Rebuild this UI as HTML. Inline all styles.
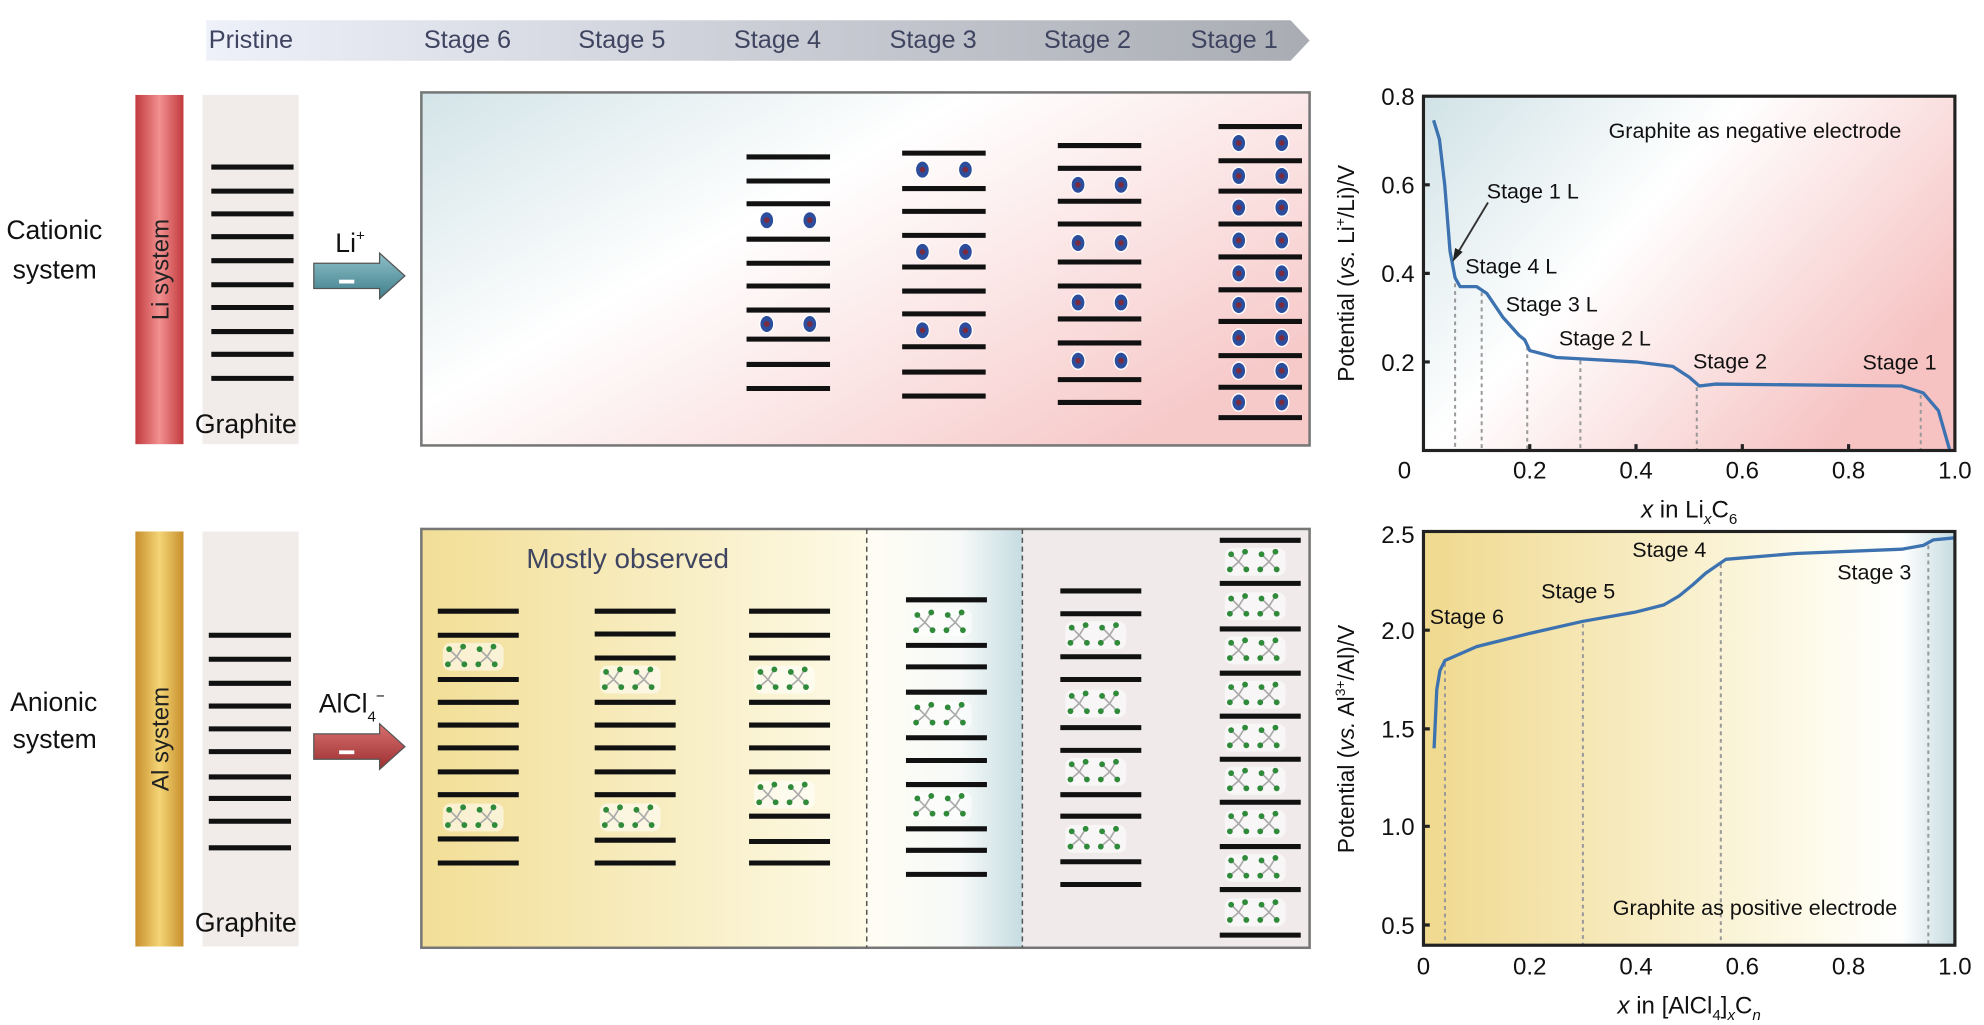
<!DOCTYPE html>
<html><head><meta charset="utf-8"><style>
html,body{margin:0;padding:0;background:#fff;}
svg{display:block;}
text{font-family:"Liberation Sans",Arial,sans-serif;}
</style></head><body>
<svg width="1984" height="1025" viewBox="0 0 1568 810" xmlns="http://www.w3.org/2000/svg">
<defs>
<linearGradient id="ban" x1="0" x2="1" y1="0" y2="0"><stop offset="0" stop-color="#eef0fa"/><stop offset="1" stop-color="#a9acb3"/></linearGradient>
<linearGradient id="rbar" x1="0" x2="1"><stop offset="0" stop-color="#c23a3d"/><stop offset="0.5" stop-color="#f29090"/><stop offset="1" stop-color="#c23a3d"/></linearGradient>
<linearGradient id="ybar" x1="0" x2="1"><stop offset="0" stop-color="#c88f2c"/><stop offset="0.5" stop-color="#f4d576"/><stop offset="1" stop-color="#c88f2c"/></linearGradient>
<linearGradient id="cbox" x1="0" y1="0" x2="1" y2="0.7"><stop offset="0" stop-color="#d3e4e8"/><stop offset="0.42" stop-color="#ffffff"/><stop offset="1" stop-color="#f7caca"/></linearGradient>
<linearGradient id="cplot" x1="0" y1="0" x2="1" y2="0.6"><stop offset="0" stop-color="#d0e2e6"/><stop offset="0.45" stop-color="#ffffff"/><stop offset="1" stop-color="#f6c2c2"/></linearGradient>
<linearGradient id="ybox" x1="0" x2="1"><stop offset="0" stop-color="#f2de96"/><stop offset="1" stop-color="#fdfae6"/></linearGradient>
<linearGradient id="bbox" x1="0" x2="1"><stop offset="0" stop-color="#fffdf3"/><stop offset="0.6" stop-color="#f6f9f8"/><stop offset="1" stop-color="#c6dde2"/></linearGradient>
<linearGradient id="yplot" x1="0" x2="1"><stop offset="0" stop-color="#f0d98e"/><stop offset="0.75" stop-color="#fdfbec"/><stop offset="0.9" stop-color="#ffffff"/><stop offset="1" stop-color="#c5dbe0"/></linearGradient>
<linearGradient id="tarr" x1="0" y1="0" x2="0" y2="1"><stop offset="0" stop-color="#8fc0c8"/><stop offset="1" stop-color="#3f7f8c"/></linearGradient>
<linearGradient id="rarr" x1="0" y1="0" x2="0" y2="1"><stop offset="0" stop-color="#d97070"/><stop offset="1" stop-color="#9c2f2f"/></linearGradient>
<g id="d"><ellipse rx="6" ry="7.5" fill="#fff"/><ellipse rx="5" ry="6.3" fill="#2c4c9c"/><circle r="2.2" fill="#7b2b3d"/></g>
<g id="li"><use href="#d" x="16"/><use href="#d" x="50"/></g>
<g id="m"><path d="M0 0L-6 -6M0 0L5 -8M0 0L-7 6M0 0L6 6" stroke="#aaa" stroke-width="1.3"/><circle cx="-6" cy="-6" r="2.3" fill="#2f8a3a"/><circle cx="5" cy="-8" r="2.3" fill="#2f8a3a"/><circle cx="-7" cy="6" r="2.3" fill="#2f8a3a"/><circle cx="6" cy="6" r="2.3" fill="#2f8a3a"/></g>
<g id="al"><rect x="8" y="-11" width="48" height="22" rx="6" fill="#fff" opacity="0.55"/><use href="#m" x="19"/><use href="#m" x="43"/></g>
</defs>

<polygon points="163,16 1020,16 1035,32 1020,48 163,48" fill="url(#ban)"/>
<g font-size="20" fill="#3f4560">
<text x="165" y="38">Pristine</text><text x="335" y="38">Stage 6</text><text x="457" y="38">Stage 5</text><text x="580" y="38">Stage 4</text><text x="703" y="38">Stage 3</text><text x="825" y="38">Stage 2</text><text x="941" y="38">Stage 1</text>
</g>

<g font-size="21" fill="#111">
<text x="5" y="189">Cationic</text><text x="10" y="220">system</text>
<text x="8" y="562">Anionic</text><text x="10" y="591">system</text>
</g>
<rect x="107" y="75" width="38" height="276" fill="url(#rbar)"/>
<rect x="107" y="420" width="38" height="328" fill="url(#ybar)"/>
<text transform="translate(133,213) rotate(-90)" text-anchor="middle" font-size="19" fill="#222">Li system</text>
<text transform="translate(133,584) rotate(-90)" text-anchor="middle" font-size="19" fill="#222">Al system</text>
<rect x="160" y="75" width="76" height="276" fill="#f1ebe9"/>
<rect x="160" y="420" width="76" height="328" fill="#f1ebe9"/>
<g font-size="21" fill="#111"><text x="154" y="342">Graphite</text><text x="154" y="736">Graphite</text></g>
<g stroke="#111" stroke-width="4" fill="none">
<path d="M167 132h65M167 151h65M167 169h65M167 187h65M167 206h65M167 225h65M167 243h65M167 262h65M167 280h65M167 299h65"/>
<path d="M165 502h65M165 521h65M165 540h65M165 558h65M165 576h65M165 594h65M165 614h65M165 631h65M165 649h65M165 670h65"/>
</g>

<polygon points="248,208 300,208 300,200 320,218 300,236 300,228 248,228" fill="url(#tarr)" stroke="#555" stroke-width="1"/>
<rect x="268" y="221" width="12" height="3" fill="#fff"/>
<polygon points="248,580 300,580 300,572 320,590 300,608 300,600 248,600" fill="url(#rarr)" stroke="#555" stroke-width="1"/>
<rect x="268" y="593" width="12" height="3" fill="#fff"/>
<text x="265" y="199" font-size="21" fill="#111">Li<tspan font-size="12" dy="-9">+</tspan></text>
<text x="252" y="563" font-size="21" fill="#111">AlCl<tspan font-size="12" dy="7">4</tspan><tspan font-size="12" dy="-16">−</tspan></text>

<rect x="333" y="73" width="702" height="279" fill="url(#cbox)" stroke="#777" stroke-width="2"/>
<g stroke="#111" stroke-width="4" fill="none">
<path d="M590 124h66M590 143h66M590 161h66M590 189h66M590 208h66M590 226h66M590 245h66M590 268h66M590 288h66M590 307h66"/>
<path d="M713 121h66M713 149h66M713 167h66M713 186h66M713 211h66M713 230h66M713 248h66M713 274h66M713 294h66M713 313h66"/>
<path d="M836 115h66M836 133h66M836 159h66M836 177h66M836 207h66M836 226h66M836 252h66M836 271h66M836 300h66M836 318h66"/>
<path d="M963 100h66M963 127h66M963 151h66M963 177h66M963 203h66M963 229h66M963 254h66M963 281h66M963 306h66M963 330h66"/>
</g>
<use href="#li" x="590" y="174"/><use href="#li" x="590" y="256"/>
<use href="#li" x="713" y="134"/><use href="#li" x="713" y="199"/><use href="#li" x="713" y="261"/>
<use href="#li" x="836" y="146"/><use href="#li" x="836" y="192"/><use href="#li" x="836" y="239"/><use href="#li" x="836" y="285"/>
<use href="#li" x="963" y="113"/><use href="#li" x="963" y="139"/><use href="#li" x="963" y="164"/><use href="#li" x="963" y="190"/><use href="#li" x="963" y="216"/><use href="#li" x="963" y="241"/><use href="#li" x="963" y="267"/><use href="#li" x="963" y="293"/><use href="#li" x="963" y="318"/>

<rect x="333" y="418" width="352" height="331" fill="url(#ybox)"/>
<rect x="685" y="418" width="123" height="331" fill="url(#bbox)"/>
<rect x="808" y="418" width="227" height="331" fill="#f0ebea"/>
<rect x="333" y="418" width="702" height="331" fill="none" stroke="#777" stroke-width="2"/>
<g stroke="#555" stroke-width="1.2" stroke-dasharray="4 3"><line x1="685" y1="418" x2="685" y2="749"/><line x1="808" y1="418" x2="808" y2="749"/></g>
<text x="416" y="449" font-size="22" fill="#3f4560">Mostly observed</text>
<g stroke="#111" stroke-width="4" fill="none">
<path d="M346 483h64M346 502h64M346 537h64M346 555h64M346 573h64M346 591h64M346 610h64M346 628h64M346 663h64M346 682h64"/>
<path d="M470 483h64M470 501h64M470 520h64M470 555h64M470 573h64M470 591h64M470 610h64M470 628h64M470 664h64M470 682h64"/>
<path d="M592 483h64M592 502h64M592 520h64M592 555h64M592 573h64M592 591h64M592 610h64M592 645h64M592 665h64M592 682h64"/>
<path d="M716 474h64M716 510h64M716 527h64M716 547h64M716 583h64M716 601h64M716 620h64M716 655h64M716 672h64M716 691h64"/>
<path d="M838 467h64M838 485h64M838 519h64M838 537h64M838 575h64M838 593h64M838 628h64M838 645h64M838 681h64M838 699h64"/>
<path d="M964 427h64M964 461h64M964 497h64M964 532h64M964 566h64M964 600h64M964 634h64M964 669h64M964 703h64M964 739h64"/>
</g>
<use href="#al" x="342" y="519"/><use href="#al" x="342" y="646"/>
<use href="#al" x="466" y="537"/><use href="#al" x="466" y="646"/>
<use href="#al" x="588" y="537"/><use href="#al" x="588" y="628"/>
<use href="#al" x="712" y="492"/><use href="#al" x="712" y="565"/><use href="#al" x="712" y="637"/>
<use href="#al" x="834" y="502"/><use href="#al" x="834" y="556"/><use href="#al" x="834" y="610"/><use href="#al" x="834" y="663"/>
<use href="#al" x="960" y="444"/><use href="#al" x="960" y="479"/><use href="#al" x="960" y="514"/><use href="#al" x="960" y="549"/><use href="#al" x="960" y="583"/><use href="#al" x="960" y="617"/><use href="#al" x="960" y="651"/><use href="#al" x="960" y="686"/><use href="#al" x="960" y="721"/>

<rect x="1125" y="76" width="420" height="280" fill="url(#cplot)"/>
<g stroke="#999" stroke-width="1.6" stroke-dasharray="3 3">
<line x1="1150" y1="224" x2="1150" y2="356"/><line x1="1171" y1="231" x2="1171" y2="356"/><line x1="1207" y1="274" x2="1207" y2="356"/><line x1="1249" y1="285" x2="1249" y2="356"/><line x1="1341" y1="306" x2="1341" y2="356"/><line x1="1518" y1="312" x2="1518" y2="356"/>
</g>
<polyline points="1133,95 1137.6,110 1141.8,146 1146,198.5 1150,219.5 1154,226.5 1167,226.5 1175,231.8 1188,251 1200.6,265 1205,268.5 1209,277 1230,282.5 1293,286 1322,289.5 1335,298 1343,305 1356,303.5 1503,305 1520,310.5 1532,324.5 1541,356" fill="none" stroke="#3d72b0" stroke-width="2.6" stroke-linejoin="round"/>
<rect x="1125" y="76" width="420" height="280" fill="none" stroke="#222" stroke-width="2.5"/>
<g stroke="#222" stroke-width="2.5"><path d="M1209 356v-5M1293 356v-5M1377 356v-5M1461 356v-5M1125 146h5M1125 216h5M1125 286h5"/></g>
<g font-size="19" fill="#111">
<text x="1118" y="83" text-anchor="end">0.8</text><text x="1118" y="153" text-anchor="end">0.6</text><text x="1118" y="223" text-anchor="end">0.4</text><text x="1118" y="293" text-anchor="end">0.2</text>
<text x="1110" y="378" text-anchor="middle">0</text><text x="1209" y="378" text-anchor="middle">0.2</text><text x="1293" y="378" text-anchor="middle">0.4</text><text x="1377" y="378" text-anchor="middle">0.6</text><text x="1461" y="378" text-anchor="middle">0.8</text><text x="1545" y="378" text-anchor="middle">1.0</text>
<text x="1335" y="409" text-anchor="middle"><tspan font-style="italic">x</tspan> in Li<tspan font-size="12" dy="5" font-style="italic">x</tspan><tspan dy="-5">C</tspan><tspan font-size="12" dy="5">6</tspan></text>
</g>
<text transform="translate(1070,216) rotate(-90)" text-anchor="middle" font-size="18" fill="#111">Potential (<tspan font-style="italic">vs.</tspan> Li<tspan font-size="11" dy="-7">+</tspan><tspan dy="7">/Li)/V</tspan></text>
<g font-size="17" fill="#111">
<text x="1387" y="109" text-anchor="middle">Graphite as negative electrode</text>
<text x="1175" y="157">Stage 1 L</text><text x="1158" y="216">Stage 4 L</text><text x="1190" y="246">Stage 3 L</text><text x="1232" y="273">Stage 2 L</text><text x="1338" y="291">Stage 2</text><text x="1472" y="292">Stage 1</text>
</g>
<line x1="1176" y1="160" x2="1152" y2="200" stroke="#333" stroke-width="1.5"/>
<polygon points="1148,207 1150,196 1156,199" fill="#222"/>

<rect x="1125" y="420" width="420" height="327" fill="url(#yplot)"/>
<g stroke="#999" stroke-width="1.6" stroke-dasharray="3 3">
<line x1="1142" y1="524" x2="1142" y2="747"/><line x1="1251" y1="493" x2="1251" y2="747"/><line x1="1360" y1="446" x2="1360" y2="747"/><line x1="1524" y1="431" x2="1524" y2="747"/>
</g>
<polyline points="1133.4,591.4 1135.5,545 1138,530 1142,522 1167,511 1209,500.5 1251,491 1293,483.6 1315,478 1327,471 1338,462 1348,453 1364,442 1419,437.4 1503,434 1520,431 1528,426.6 1545,425" fill="none" stroke="#3d72b0" stroke-width="2.6" stroke-linejoin="round"/>
<rect x="1125" y="420" width="420" height="327" fill="none" stroke="#222" stroke-width="2.5"/>
<g stroke="#222" stroke-width="2.5"><path d="M1125 498h5M1125 576h5M1125 653h5M1125 731h5"/></g>
<g font-size="19" fill="#111">
<text x="1118" y="429" text-anchor="end">2.5</text><text x="1118" y="505" text-anchor="end">2.0</text><text x="1118" y="583" text-anchor="end">1.5</text><text x="1118" y="660" text-anchor="end">1.0</text><text x="1118" y="738" text-anchor="end">0.5</text>
<text x="1125" y="770" text-anchor="middle">0</text><text x="1209" y="770" text-anchor="middle">0.2</text><text x="1293" y="770" text-anchor="middle">0.4</text><text x="1377" y="770" text-anchor="middle">0.6</text><text x="1461" y="770" text-anchor="middle">0.8</text><text x="1545" y="770" text-anchor="middle">1.0</text>
<text x="1335" y="801" text-anchor="middle"><tspan font-style="italic">x</tspan> in [AlCl<tspan font-size="12" dy="5">4</tspan><tspan dy="-5">]</tspan><tspan font-size="12" dy="5" font-style="italic">x</tspan><tspan dy="-5">C</tspan><tspan font-size="12" dy="5" font-style="italic">n</tspan></text>
</g>
<text transform="translate(1070,584) rotate(-90)" text-anchor="middle" font-size="18" fill="#111">Potential (<tspan font-style="italic">vs.</tspan> Al<tspan font-size="11" dy="-7">3+</tspan><tspan dy="7">/Al)/V</tspan></text>
<g font-size="17" fill="#111">
<text x="1130" y="493">Stage 6</text><text x="1218" y="473">Stage 5</text><text x="1290" y="440">Stage 4</text><text x="1452" y="458">Stage 3</text>
<text x="1387" y="723" text-anchor="middle">Graphite as positive electrode</text>
</g>
</svg>
</body></html>
